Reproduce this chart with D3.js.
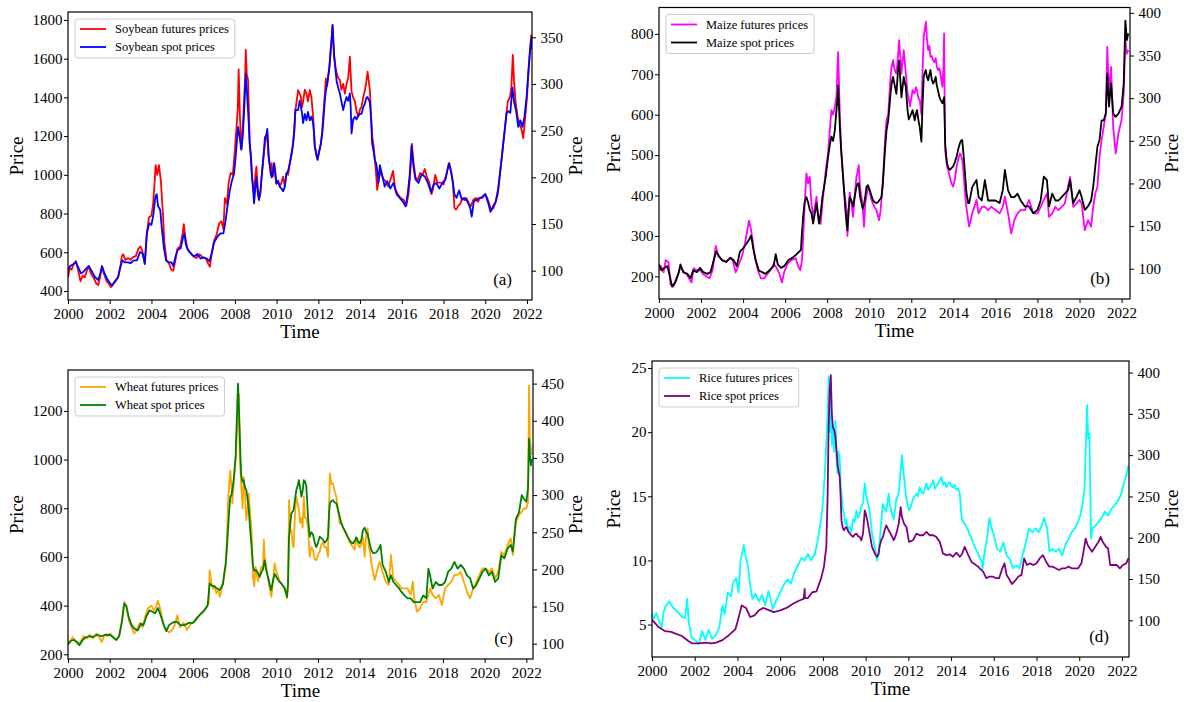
<!DOCTYPE html>
<html><head><meta charset="utf-8">
<script src="https://cdn.jsdelivr.net/npm/d3@7"></script>
<style>
body{margin:0;background:#fff}
svg text{font-family:"Liberation Serif","Times New Roman",serif;fill:#000}
</style></head><body>
<svg id="chart" width="1184" height="702"></svg>
<script>
// ---- Series: [year, price] ----
const soybeanFutures = [[2000.00,470],[2000.08,520],[2000.17,510],[2000.28,540],[2000.38,555],[2000.50,500],[2000.60,450],[2000.70,480],[2000.80,470],[2000.92,510],[2001.00,525],[2001.10,490],[2001.22,470],[2001.35,440],[2001.45,430],[2001.55,480],[2001.63,525],[2001.72,490],[2001.85,450],[2001.95,440],[2002.05,420],[2002.15,435],[2002.28,450],[2002.40,470],[2002.50,520],[2002.58,580],[2002.65,590],[2002.75,560],[2002.88,570],[2003.00,560],[2003.12,575],[2003.25,580],[2003.38,620],[2003.48,630],[2003.58,600],[2003.68,545],[2003.78,700],[2003.88,780],[2004.00,790],[2004.08,850],[2004.15,960],[2004.20,1050],[2004.28,1000],[2004.36,1050],[2004.45,970],[2004.55,800],[2004.62,650],[2004.72,560],[2004.85,540],[2004.95,510],[2005.05,505],[2005.15,560],[2005.25,620],[2005.38,630],[2005.50,700],[2005.55,745],[2005.62,680],[2005.72,620],[2005.85,600],[2006.00,580],[2006.15,570],[2006.30,590],[2006.45,575],[2006.60,570],[2006.72,540],[2006.80,525],[2006.90,600],[2007.00,660],[2007.12,690],[2007.25,750],[2007.35,760],
[2007.45,720],[2007.52,880],[2007.62,850],[2007.70,960],[2007.80,1010],[2007.90,1000],[2008.00,1130],[2008.08,1250],[2008.14,1350],[2008.18,1545],[2008.24,1300],[2008.32,1130],[2008.38,1250],[2008.44,1390],[2008.49,1500],[2008.52,1645],[2008.57,1520],[2008.63,1490],[2008.71,1165],[2008.77,1100],[2008.82,990],[2008.88,940],[2008.92,887],[2008.98,1000],[2009.03,1042],[2009.09,940],[2009.15,870],[2009.22,900],[2009.28,990],[2009.36,1080],[2009.44,1160],[2009.50,1200],[2009.55,1220],[2009.60,1100],[2009.66,1060],[2009.72,1000],[2009.76,1060],[2009.82,990],[2009.88,1060],[2009.94,990],[2009.99,956],[2010.07,970],[2010.15,940],[2010.23,960],[2010.31,990],[2010.39,940],[2010.47,1008],[2010.55,1000],[2010.63,1059],[2010.71,1100],[2010.79,1163],[2010.85,1250],[2010.90,1335],[2010.96,1380],[2011.03,1438],[2011.10,1420],[2011.16,1404],[2011.22,1350],[2011.27,1380],[2011.35,1440],[2011.43,1421],[2011.50,1380],[2011.59,1438],[2011.67,1400],[2011.75,1300],[2011.80,1200],[2011.83,1145],[2011.90,1100],[2011.96,1077],[2012.04,1120],[2012.12,1162],[2012.18,1220],[2012.23,1300],[2012.30,1400],[2012.36,1498],[2012.42,1460],[2012.47,1507],[2012.53,1560],[2012.58,1628],[2012.64,1700],[2012.68,1774],[2012.72,1690],[2012.76,1610],[2012.82,1560],[2012.87,1530],[2012.95,1500],[2013.03,1490],[2013.10,1440],[2013.19,1470],[2013.27,1420],[2013.35,1470],[2013.43,1500],[2013.51,1610],[2013.55,1520],[2013.59,1430],[2013.67,1400],[2013.75,1380],[2013.83,1330],[2013.91,1300],[2014.00,1340],[2014.07,1350],[2014.15,1400],[2014.23,1438],[2014.30,1480],[2014.36,1533],[2014.42,1480],[2014.47,1438],[2014.53,1300],[2014.58,1200],[2014.65,1150],[2014.71,1077],[2014.77,1000],[2014.82,922],[2014.90,980],
[2015.00,1020],[2015.10,980],[2015.20,970],[2015.35,940],[2015.50,990],[2015.58,1020],[2015.68,930],[2015.80,900],[2015.95,880],[2016.10,870],[2016.22,840],[2016.32,900],[2016.40,1000],[2016.48,1160],[2016.55,1080],[2016.65,990],[2016.75,970],[2016.88,1010],[2017.00,1000],[2017.10,1030],[2017.20,990],[2017.32,960],[2017.42,900],[2017.50,930],[2017.60,1000],[2017.70,960],[2017.85,960],[2018.00,950],[2018.10,990],[2018.20,1030],[2018.28,1060],[2018.38,1010],[2018.45,960],[2018.52,830],[2018.60,820],[2018.70,840],[2018.80,850],[2018.90,880],[2019.00,870],[2019.10,880],[2019.22,850],[2019.32,840],[2019.42,870],[2019.55,880],[2019.65,860],[2019.75,880],[2019.88,890],[2020.00,900],[2020.10,880],[2020.22,840],[2020.30,820],[2020.40,830],[2020.50,860],[2020.60,900],[2020.70,1000],[2020.80,1100],[2020.90,1200],[2021.00,1300],[2021.08,1380],[2021.18,1400],[2021.25,1450],[2021.32,1620],[2021.38,1480],[2021.45,1380],[2021.55,1300],[2021.65,1260],[2021.75,1230],[2021.82,1190],[2021.90,1280],[2022.00,1400],[2022.08,1550],[2022.15,1650],[2022.20,1720],[2022.25,1700]];
const soybeanSpot = [[2000.00,101],[2000.10,105],[2000.25,107],[2000.38,109],[2000.50,103],[2000.62,97],[2000.75,99],[2000.90,103],[2001.00,105],[2001.15,99],[2001.30,93],[2001.45,90],[2001.55,97],[2001.63,105],[2001.75,97],[2001.88,91],[2002.00,87],[2002.12,84],[2002.25,89],[2002.40,93],[2002.50,103],[2002.60,111],[2002.72,109],[2002.88,109],[2003.00,108],[2003.15,111],[2003.30,111],[2003.45,120],[2003.58,118],[2003.68,107],[2003.78,140],[2003.90,151],[2004.00,149],[2004.10,161],[2004.18,178],[2004.25,182],[2004.32,169],[2004.42,165],[2004.50,145],[2004.60,124],[2004.70,111],[2004.82,109],[2004.95,109],[2005.05,105],[2005.15,115],[2005.25,122],[2005.40,124],[2005.52,136],[2005.58,140],[2005.65,128],[2005.75,122],[2005.90,118],[2006.05,115],[2006.20,118],[2006.35,113],[2006.50,114],[2006.65,113],[2006.78,110],[2006.90,120],[2007.00,130],[2007.15,136],[2007.30,140],
[2007.45,140],[2007.55,153],[2007.65,170],[2007.75,185],[2007.85,196],[2007.95,203],[2008.03,220],[2008.10,240],[2008.16,254],[2008.22,245],[2008.30,230],[2008.38,245],[2008.44,270],[2008.49,295],[2008.52,311],[2008.58,290],[2008.63,272],[2008.68,250],[2008.71,236],[2008.77,220],[2008.82,200],[2008.88,185],[2008.92,172],[2008.98,190],[2009.03,200],[2009.09,185],[2009.15,176],[2009.22,185],[2009.28,200],[2009.36,220],[2009.44,243],[2009.50,245],[2009.55,252],[2009.60,232],[2009.64,218],[2009.70,208],[2009.76,200],[2009.82,205],[2009.88,215],[2009.94,205],[2009.99,193],[2010.07,196],[2010.15,190],[2010.23,188],[2010.31,185],[2010.39,190],[2010.47,204],[2010.55,207],[2010.63,215],[2010.71,225],[2010.79,236],[2010.85,250],[2010.90,272],[2010.96,272],[2011.03,272],[2011.10,282],[2011.16,276],[2011.22,268],[2011.27,258],[2011.35,268],[2011.43,261],[2011.50,270],[2011.59,261],[2011.67,265],[2011.75,258],[2011.80,245],[2011.83,233],[2011.90,226],[2011.96,219],[2012.04,228],[2012.12,236],[2012.18,246],[2012.23,258],[2012.30,280],[2012.36,293],[2012.42,300],[2012.47,308],[2012.53,318],[2012.58,333],[2012.64,350],[2012.68,363],[2012.72,345],[2012.76,329],[2012.82,315],[2012.87,304],[2012.95,296],[2013.03,290],[2013.10,282],[2013.19,272],[2013.27,280],[2013.35,286],[2013.43,282],[2013.51,290],[2013.55,275],[2013.59,247],[2013.67,262],[2013.75,265],[2013.83,262],[2013.91,266],[2014.00,268],[2014.07,268],[2014.15,275],[2014.23,279],[2014.30,285],[2014.36,286],[2014.42,283],[2014.47,280],[2014.53,262],[2014.58,236],[2014.65,228],[2014.71,218],[2014.77,215],[2014.82,208],[2014.88,194],[2014.95,213],
[2015.05,203],[2015.18,190],[2015.30,196],[2015.45,188],[2015.60,194],[2015.75,182],[2015.90,178],[2016.05,174],[2016.18,169],[2016.28,182],[2016.38,203],[2016.47,234],[2016.55,213],[2016.65,198],[2016.80,194],[2016.95,203],[2017.10,201],[2017.25,194],[2017.40,184],[2017.52,192],[2017.65,194],[2017.80,188],[2017.95,194],[2018.10,198],[2018.25,215],[2018.35,207],[2018.45,194],[2018.52,182],[2018.62,178],[2018.75,186],[2018.88,176],[2019.00,178],[2019.15,174],[2019.28,167],[2019.35,158],[2019.45,174],[2019.58,176],[2019.72,178],[2019.85,178],[2020.00,182],[2020.12,174],[2020.25,163],[2020.38,169],[2020.50,174],[2020.62,188],[2020.72,207],[2020.82,227],[2020.92,248],[2021.02,269],[2021.10,271],[2021.20,269],[2021.30,296],[2021.38,281],[2021.48,271],[2021.58,254],[2021.68,261],[2021.78,254],[2021.88,265],[2021.98,286],[2022.08,317],[2022.15,337],[2022.20,348],[2022.25,337]];

const maizeFutures = [[2000.00,215],[2000.10,225],[2000.22,210],[2000.32,240],[2000.45,235],[2000.55,180],[2000.68,175],[2000.82,195],[2000.95,210],[2001.02,225],[2001.18,210],[2001.32,205],[2001.48,190],[2001.55,185],[2001.65,220],[2001.80,215],[2001.95,215],[2002.10,205],[2002.25,200],[2002.40,195],[2002.55,215],[2002.70,275],[2002.82,250],[2003.00,240],[2003.20,235],[2003.35,245],[2003.50,240],[2003.65,210],[2003.80,230],[2003.95,250],[2004.10,285],[2004.22,320],[2004.28,338],[2004.36,320],[2004.45,290],[2004.55,250],[2004.70,215],[2004.85,195],[2005.00,195],[2005.15,205],[2005.30,215],[2005.45,230],[2005.55,225],[2005.70,210],[2005.85,185],[2005.95,210],[2006.10,230],[2006.30,240],[2006.50,245],[2006.62,225],[2006.72,215],
[2006.80,240],[2006.85,290],[2006.92,370],[2007.01,455],[2007.09,430],[2007.17,446],[2007.25,380],[2007.33,347],[2007.41,370],[2007.49,397],[2007.55,360],[2007.61,340],[2007.69,330],[2007.77,380],[2007.85,420],[2007.93,463],[2008.04,504],[2008.12,560],[2008.20,611],[2008.28,600],[2008.36,619],[2008.44,644],[2008.49,720],[2008.52,755],[2008.56,680],[2008.60,600],[2008.66,520],[2008.71,480],[2008.80,415],[2008.86,390],[2008.92,364],[2008.96,300],[2009.02,360],[2009.07,407],[2009.15,380],[2009.23,347],[2009.31,400],[2009.39,446],[2009.45,460],[2009.50,475],[2009.56,420],[2009.63,397],[2009.69,370],[2009.75,323],[2009.81,380],[2009.87,400],[2009.94,420],[2010.02,410],[2010.10,390],[2010.18,380],[2010.26,370],[2010.34,364],[2010.41,350],[2010.47,339],[2010.53,360],[2010.58,390],[2010.64,430],[2010.69,480],[2010.75,540],[2010.82,587],[2010.90,600],[2010.96,650],[2011.01,694],[2011.07,720],[2011.13,735],[2011.21,710],[2011.29,702],[2011.36,740],[2011.42,784],[2011.48,740],[2011.53,702],[2011.58,730],[2011.64,760],[2011.69,730],[2011.74,702],[2011.82,653],[2011.88,640],[2011.93,621],[2012.00,640],[2012.06,661],[2012.11,655],[2012.16,653],[2012.22,668],[2012.27,661],[2012.34,640],[2012.40,637],[2012.48,600],[2012.53,700],[2012.59,793],[2012.64,810],[2012.69,830],[2012.74,790],[2012.80,760],[2012.86,770],[2012.91,743],[2012.97,745],[2013.04,735],[2013.10,730],[2013.16,740],[2013.21,720],[2013.27,710],[2013.33,715],[2013.39,700],[2013.48,669],[2013.53,720],[2013.56,801],[2013.59,600],[2013.61,512],[2013.66,490],[2013.70,471],[2013.77,460],[2013.83,446],[2013.91,430],[2013.99,422],[2014.07,440],[2014.15,470],[2014.23,490],[2014.31,504],[2014.36,500],[2014.42,488],[2014.48,460],[2014.54,415],[2014.62,370],[2014.70,340],[2014.75,323],[2014.90,356],
[2015.10,389],[2015.20,356],[2015.35,372],[2015.50,372],[2015.65,364],[2015.80,372],[2016.00,364],[2016.20,356],[2016.35,372],[2016.45,397],[2016.60,356],[2016.75,306],[2016.90,339],[2017.05,356],[2017.20,364],[2017.40,364],[2017.60,389],[2017.80,356],[2018.00,356],[2018.15,372],[2018.30,389],[2018.45,405],[2018.55,347],[2018.70,356],[2018.85,372],[2019.00,364],[2019.15,372],[2019.30,380],[2019.45,421],[2019.55,446],[2019.70,372],[2019.85,380],[2020.00,389],[2020.10,380],[2020.25,314],[2020.40,339],[2020.55,323],[2020.65,372],[2020.75,405],[2020.85,421],[2020.95,496],[2021.05,537],[2021.15,570],[2021.25,603],[2021.32,768],[2021.40,652],[2021.50,718],[2021.60,570],[2021.72,504],[2021.85,554],[2022.00,587],[2022.10,652],[2022.18,784],[2022.25,751],[2022.32,760]];
const maizeSpot = [[2000.00,105],[2000.12,98],[2000.25,101],[2000.40,103],[2000.52,91],[2000.62,79],[2000.78,84],[2000.92,94],[2001.02,105],[2001.15,96],[2001.35,94],[2001.50,89],[2001.62,98],[2001.80,96],[2001.95,101],[2002.10,96],[2002.30,94],[2002.45,96],[2002.60,110],[2002.72,120],[2002.85,115],[2003.00,110],[2003.20,108],[2003.40,113],[2003.55,110],[2003.70,103],[2003.85,120],[2004.00,124],[2004.15,129],[2004.28,134],[2004.38,139],[2004.48,124],[2004.60,110],[2004.75,98],[2004.90,96],[2005.05,94],[2005.25,98],[2005.45,103],[2005.55,117],[2005.65,105],[2005.80,101],[2005.95,103],[2006.15,110],[2006.35,113],[2006.55,117],[2006.75,122],
[2006.78,135],[2006.85,160],[2006.92,177],[2007.01,184],[2007.09,178],[2007.17,169],[2007.25,165],[2007.33,153],[2007.41,165],[2007.49,177],[2007.55,165],[2007.61,153],[2007.69,165],[2007.77,184],[2007.85,196],[2007.93,208],[2008.04,231],[2008.12,245],[2008.20,255],[2008.28,250],[2008.36,262],[2008.44,286],[2008.49,300],[2008.52,315],[2008.56,290],[2008.60,266],[2008.66,240],[2008.71,223],[2008.76,205],[2008.80,192],[2008.86,170],[2008.92,153],[2008.96,145],[2009.02,170],[2009.07,184],[2009.15,180],[2009.23,173],[2009.31,185],[2009.39,196],[2009.45,200],[2009.50,200],[2009.56,185],[2009.63,177],[2009.69,170],[2009.75,176],[2009.81,185],[2009.87,196],[2009.94,198],[2010.02,192],[2010.10,186],[2010.18,180],[2010.26,178],[2010.34,177],[2010.41,178],[2010.47,180],[2010.53,182],[2010.58,184],[2010.64,198],[2010.69,216],[2010.75,240],[2010.82,262],[2010.90,274],[2010.96,290],[2011.01,305],[2011.07,318],[2011.13,325],[2011.21,315],[2011.29,305],[2011.36,330],[2011.42,344],[2011.48,320],[2011.53,301],[2011.58,312],[2011.64,325],[2011.69,318],[2011.74,313],[2011.82,286],[2011.88,275],[2011.93,278],[2012.00,282],[2012.06,286],[2012.11,280],[2012.16,274],[2012.22,282],[2012.27,286],[2012.34,274],[2012.40,266],[2012.48,249],[2012.53,290],[2012.59,325],[2012.64,330],[2012.69,333],[2012.74,325],[2012.80,321],[2012.86,328],[2012.91,333],[2012.97,322],[2013.04,317],[2013.10,320],[2013.16,325],[2013.21,315],[2013.27,309],[2013.33,302],[2013.39,298],[2013.48,294],[2013.53,298],[2013.56,301],[2013.59,270],[2013.61,247],[2013.66,232],[2013.70,223],[2013.77,218],[2013.83,216],[2013.91,218],[2013.99,220],[2014.07,225],[2014.15,231],[2014.23,240],[2014.31,247],[2014.36,250],[2014.42,251],[2014.48,235],[2014.54,216],[2014.62,190],[2014.70,177],[2014.75,177],[2014.90,196],
[2015.10,204],[2015.20,184],[2015.35,180],[2015.50,204],[2015.65,180],[2015.80,180],[2016.00,180],[2016.20,177],[2016.35,192],[2016.45,216],[2016.60,192],[2016.75,184],[2016.90,184],[2017.05,188],[2017.20,180],[2017.40,173],[2017.60,173],[2017.80,165],[2018.00,169],[2018.15,180],[2018.30,208],[2018.45,204],[2018.55,173],[2018.70,188],[2018.85,180],[2019.00,180],[2019.15,184],[2019.30,188],[2019.45,192],[2019.55,204],[2019.70,177],[2019.85,184],[2020.00,192],[2020.10,184],[2020.25,169],[2020.40,173],[2020.55,180],[2020.65,196],[2020.75,220],[2020.85,243],[2020.95,251],[2021.05,274],[2021.15,274],[2021.25,282],[2021.32,329],[2021.40,290],[2021.50,317],[2021.60,282],[2021.72,278],[2021.85,282],[2022.00,290],[2022.10,317],[2022.18,391],[2022.25,368],[2022.32,376]];

const wheatFutures = [[2000.00,260],[2000.10,250],[2000.22,270],[2000.35,255],[2000.50,240],[2000.62,255],[2000.75,275],[2000.90,265],[2001.05,280],[2001.20,265],[2001.35,285],[2001.50,270],[2001.62,250],[2001.75,280],[2001.90,275],[2002.05,285],[2002.20,265],[2002.35,260],[2002.48,280],[2002.60,350],[2002.70,415],[2002.80,395],[2002.92,340],[2003.05,310],[2003.18,285],[2003.30,300],[2003.45,330],[2003.58,310],[2003.72,360],[2003.85,390],[2004.00,400],[2004.12,380],[2004.25,400],[2004.32,420],[2004.45,380],[2004.58,320],[2004.72,300],[2004.85,290],[2005.00,300],[2005.12,320],[2005.25,360],[2005.38,310],[2005.55,330],[2005.70,300],[2005.85,320],[2006.00,330],[2006.15,340],[2006.30,360],[2006.45,370],[2006.60,390],
[2006.75,410],[2006.80,546],[2006.87,500],[2006.95,470],[2007.04,480],[2007.12,450],[2007.20,470],[2007.28,436],[2007.36,460],[2007.44,500],[2007.50,520],[2007.57,560],[2007.63,680],[2007.68,820],[2007.74,900],[2007.79,956],[2007.85,880],[2007.89,820],[2007.95,900],[2008.00,970],[2008.05,1000],[2008.10,1100],[2008.16,1161],[2008.20,1270],[2008.24,1025],[2008.28,950],[2008.32,888],[2008.38,800],[2008.43,929],[2008.50,850],[2008.56,751],[2008.62,800],[2008.68,860],[2008.74,780],[2008.80,723],[2008.85,620],[2008.88,518],[2008.94,480],[2009.00,560],[2009.04,540],[2009.12,500],[2009.20,530],[2009.28,560],[2009.36,550],[2009.40,670],[2009.44,601],[2009.52,560],[2009.60,510],[2009.68,470],[2009.76,436],[2009.84,500],[2009.92,573],[2010.00,540],[2010.08,520],[2010.16,500],[2010.24,490],[2010.32,480],[2010.40,464],[2010.47,450],[2010.51,430],[2010.56,470],[2010.61,833],[2010.67,700],[2010.72,710],[2010.78,650],[2010.83,640],[2010.90,780],[2010.96,847],[2011.02,820],[2011.08,800],[2011.14,740],[2011.20,760],[2011.26,720],[2011.32,850],[2011.38,760],[2011.44,760],[2011.52,720],[2011.60,600],[2011.68,640],[2011.76,630],[2011.84,590],[2011.92,587],[2012.00,610],[2012.08,620],[2012.16,650],[2012.24,660],[2012.32,640],[2012.40,640],[2012.48,600],[2012.53,800],[2012.57,943],[2012.64,900],[2012.72,902],[2012.80,870],[2012.88,847],[2012.96,800],[2013.04,737],[2013.12,740],[2013.20,720],[2013.28,710],[2013.36,690],[2013.44,680],[2013.52,660],[2013.60,650],[2013.68,640],[2013.76,630],[2013.84,680],[2013.92,650],[2014.00,640],[2014.08,650],[2014.16,680],[2014.24,601],[2014.32,700],[2014.38,717],[2014.44,640],[2014.50,620],[2014.56,573],[2014.64,540],[2014.72,505],[2014.80,530],[2014.88,560],[2014.95,580],
[2015.10,539],[2015.25,498],[2015.40,485],[2015.50,608],[2015.62,512],[2015.75,498],[2015.90,485],[2016.00,471],[2016.15,471],[2016.30,471],[2016.45,444],[2016.55,498],[2016.62,430],[2016.75,375],[2016.90,389],[2017.05,416],[2017.20,416],[2017.38,471],[2017.50,444],[2017.65,430],[2017.80,444],[2017.95,402],[2018.10,471],[2018.25,485],[2018.40,498],[2018.55,526],[2018.70,526],[2018.85,539],[2019.00,498],[2019.15,457],[2019.30,430],[2019.45,471],[2019.60,498],[2019.75,526],[2019.90,553],[2020.05,553],[2020.20,539],[2020.35,553],[2020.50,512],[2020.65,539],[2020.80,621],[2020.95,608],[2021.10,649],[2021.25,676],[2021.35,608],[2021.50,744],[2021.65,772],[2021.78,786],[2021.88,799],[2022.00,799],[2022.08,827],[2022.13,1305],[2022.17,1086],[2022.22,1045],[2022.25,1018]];
const wheatSpot = [[2000.00,99],[2000.15,104],[2000.30,105],[2000.45,102],[2000.55,98],[2000.68,104],[2000.82,108],[2001.00,110],[2001.20,109],[2001.40,112],[2001.60,110],[2001.80,112],[2002.00,112],[2002.15,109],[2002.32,105],[2002.45,110],[2002.58,128],[2002.70,154],[2002.80,151],[2002.92,135],[2003.05,125],[2003.20,120],[2003.35,118],[2003.50,127],[2003.62,125],[2003.78,138],[2003.92,145],[2004.05,143],[2004.18,141],[2004.32,148],[2004.45,138],[2004.60,125],[2004.72,117],[2004.85,125],[2005.00,128],[2005.20,130],[2005.40,125],[2005.60,125],[2005.80,128],[2006.00,128],[2006.20,135],[2006.40,141],[2006.55,145],[2006.70,151],
[2006.80,181],[2006.90,178],[2007.04,177],[2007.12,175],[2007.20,174],[2007.28,172],[2007.36,176],[2007.44,180],[2007.50,195],[2007.57,208],[2007.63,230],[2007.68,253],[2007.74,280],[2007.79,298],[2007.85,300],[2007.89,307],[2007.95,320],[2008.00,334],[2008.05,355],[2008.10,400],[2008.16,450],[2008.20,420],[2008.24,387],[2008.28,350],[2008.32,325],[2008.38,318],[2008.43,320],[2008.50,310],[2008.56,307],[2008.62,295],[2008.68,280],[2008.74,255],[2008.80,235],[2008.85,215],[2008.88,204],[2008.94,198],[2009.04,199],[2009.12,195],[2009.20,190],[2009.28,196],[2009.36,200],[2009.44,212],[2009.52,198],[2009.60,190],[2009.68,180],[2009.76,172],[2009.84,185],[2009.92,194],[2010.00,190],[2010.08,186],[2010.16,183],[2010.24,181],[2010.32,178],[2010.40,175],[2010.47,168],[2010.51,163],[2010.56,180],[2010.61,244],[2010.67,262],[2010.72,275],[2010.78,278],[2010.83,280],[2010.90,295],[2010.96,307],[2011.02,312],[2011.08,320],[2011.14,310],[2011.20,298],[2011.26,305],[2011.32,320],[2011.38,318],[2011.44,312],[2011.52,271],[2011.60,244],[2011.68,250],[2011.76,247],[2011.84,236],[2011.92,230],[2012.00,236],[2012.08,244],[2012.16,242],[2012.24,240],[2012.32,236],[2012.40,238],[2012.48,244],[2012.53,275],[2012.57,289],[2012.64,292],[2012.72,293],[2012.80,290],[2012.88,289],[2012.96,280],[2013.04,271],[2013.12,262],[2013.20,257],[2013.28,252],[2013.36,248],[2013.44,243],[2013.52,239],[2013.60,236],[2013.68,235],[2013.76,238],[2013.84,243],[2013.92,238],[2014.00,235],[2014.08,240],[2014.16,253],[2014.24,256],[2014.32,250],[2014.38,248],[2014.44,240],[2014.50,232],[2014.56,226],[2014.64,222],[2014.72,222],[2014.80,223],[2014.88,226],[2014.95,230],
[2015.00,233],[2015.10,206],[2015.25,197],[2015.40,183],[2015.50,192],[2015.62,183],[2015.75,179],[2015.90,174],[2016.00,170],[2016.15,165],[2016.30,161],[2016.45,161],[2016.60,156],[2016.75,156],[2016.90,156],[2017.05,165],[2017.20,161],[2017.30,201],[2017.38,192],[2017.50,174],[2017.65,183],[2017.80,179],[2017.95,179],[2018.10,183],[2018.25,197],[2018.40,201],[2018.55,210],[2018.70,201],[2018.85,206],[2019.00,201],[2019.15,192],[2019.30,188],[2019.45,174],[2019.60,179],[2019.75,188],[2019.90,197],[2020.05,201],[2020.20,192],[2020.35,197],[2020.50,183],[2020.65,188],[2020.80,219],[2020.95,215],[2021.10,228],[2021.25,233],[2021.35,224],[2021.50,268],[2021.65,277],[2021.78,300],[2021.88,295],[2022.00,291],[2022.08,309],[2022.13,376],[2022.17,354],[2022.22,340],[2022.25,349]];

const riceFutures = [[2000.00,5.8],[2000.10,5.5],[2000.20,5.9],[2000.30,5.4],[2000.45,4.8],[2000.55,6.0],[2000.65,6.5],[2000.80,6.8],[2001.00,6.3],[2001.20,6.0],[2001.40,5.6],[2001.55,5.5],[2001.65,7.0],[2001.72,5.2],[2001.85,4.0],[2002.00,3.8],[2002.20,3.5],[2002.35,4.5],[2002.50,3.8],[2002.65,4.6],[2002.80,3.9],[2003.00,4.2],[2003.15,4.8],[2003.30,6.5],[2003.40,5.8],[2003.55,7.5],[2003.70,7.2],[2003.80,8.3],[2003.95,8.6],[2004.05,7.5],[2004.15,10.0],[2004.30,11.2],[2004.40,10.2],[2004.50,9.5],[2004.60,8.0],[2004.70,7.0],[2004.85,7.4],[2005.00,6.8],[2005.15,7.3],[2005.30,6.5],[2005.45,7.6],[2005.55,7.0],[2005.65,6.2],[2005.80,6.8],[2006.00,7.5],[2006.20,8.2],[2006.35,8.5],[2006.50,8.2],[2006.65,9.0],[2006.80,9.5],[2007.00,10.2],[2007.15,10.0],[2007.30,10.5],[2007.45,10.0],
[2007.62,10.5],[2007.75,11.5],[2007.85,12.5],[2007.93,13.4],[2008.00,14.5],[2008.08,16.5],[2008.16,19.1],[2008.22,21.5],[2008.27,24.3],[2008.32,20.0],[2008.37,23.0],[2008.42,19.0],[2008.47,20.4],[2008.53,18.5],[2008.59,20.9],[2008.64,18.0],[2008.68,16.8],[2008.73,18.5],[2008.79,17.9],[2008.83,16.0],[2008.87,15.2],[2008.93,14.0],[2008.99,13.7],[2009.05,12.8],[2009.10,13.2],[2009.18,12.4],[2009.26,12.6],[2009.33,12.2],[2009.41,13.2],[2009.49,13.0],[2009.57,13.9],[2009.64,13.3],[2009.72,13.6],[2009.80,14.2],[2009.88,14.5],[2009.96,16.0],[2010.02,15.2],[2010.08,14.7],[2010.19,13.8],[2010.30,12.1],[2010.43,11.05],[2010.53,10.0],[2010.60,10.4],[2010.66,11.5],[2010.73,13.0],[2010.81,14.4],[2010.90,14.0],[2010.97,13.8],[2011.08,15.2],[2011.14,14.3],[2011.21,13.8],[2011.32,13.2],[2011.38,14.0],[2011.44,14.8],[2011.55,15.2],[2011.64,17.0],[2011.70,18.2],[2011.75,17.2],[2011.80,16.5],[2011.91,14.8],[2012.03,13.9],[2012.12,14.2],[2012.22,14.8],[2012.30,15.0],[2012.38,15.2],[2012.46,15.0],[2012.53,15.7],[2012.61,15.4],[2012.69,15.2],[2012.77,15.6],[2012.85,16.0],[2012.93,15.5],[2013.00,15.7],[2013.08,15.9],[2013.16,16.25],[2013.24,15.6],[2013.31,15.8],[2013.39,16.0],[2013.47,16.25],[2013.55,16.5],[2013.62,15.9],[2013.70,16.1],[2013.78,15.7],[2013.86,16.0],[2013.94,16.1],[2014.02,15.8],[2014.09,15.7],[2014.17,15.9],[2014.25,15.5],[2014.33,15.6],[2014.41,15.2],[2014.46,14.0],[2014.51,13.2],[2014.57,13.0],[2014.64,12.9],[2014.72,12.6],[2014.79,12.4],[2014.87,12.0],[2014.95,11.8],[2015.03,11.4],[2015.11,11.05],[2015.19,10.8],[2015.26,10.6],[2015.34,10.2],[2015.42,10.0],[2015.48,9.4],[2015.55,10.4],
[2015.70,12.0],[2015.80,13.3],[2015.90,12.5],[2016.00,12.0],[2016.15,10.9],[2016.30,10.7],[2016.45,11.4],[2016.60,10.4],[2016.75,10.1],[2016.90,9.4],[2017.05,9.6],[2017.20,9.4],[2017.35,10.4],[2017.50,11.4],[2017.65,12.5],[2017.80,12.2],[2017.95,12.5],[2018.10,12.2],[2018.25,12.7],[2018.35,13.3],[2018.50,12.5],[2018.60,10.7],[2018.75,10.9],[2018.90,10.7],[2019.05,10.9],[2019.20,10.4],[2019.35,11.2],[2019.50,11.7],[2019.65,12.2],[2019.80,12.5],[2019.95,13.0],[2020.05,13.5],[2020.15,14.3],[2020.25,15.6],[2020.30,18.5],[2020.37,22.1],[2020.42,19.5],[2020.48,19.9],[2020.55,11.7],[2020.62,12.5],[2020.75,12.7],[2020.90,13.0],[2021.05,13.3],[2021.20,13.8],[2021.35,13.5],[2021.50,14.0],[2021.65,14.3],[2021.80,14.6],[2021.95,15.1],[2022.10,16.1],[2022.20,16.6],[2022.30,17.4]];
const riceSpot = [[2000.00,101],[2000.30,92],[2000.60,87],[2000.90,86],[2001.10,84],[2001.40,81],[2001.70,75],[2001.90,72],[2002.20,72],[2002.50,73],[2002.80,72],[2003.00,73],[2003.30,76],[2003.60,82],[2003.90,89],[2004.00,98],[2004.20,118],[2004.40,115],[2004.60,104],[2004.80,106],[2005.00,112],[2005.20,115],[2005.50,112],[2005.70,110],[2006.00,112],[2006.30,115],[2006.60,120],[2006.90,124],[2007.10,126],[2007.15,138],[2007.16,127],[2007.30,127],[2007.50,134],
[2007.70,135],[2007.93,152],[2008.05,165],[2008.16,189],[2008.22,250],[2008.27,334],[2008.32,380],[2008.37,397],[2008.42,350],[2008.47,334],[2008.53,330],[2008.59,322],[2008.64,305],[2008.68,290],[2008.74,280],[2008.79,273],[2008.83,250],[2008.87,221],[2008.93,212],[2008.99,209],[2009.05,212],[2009.10,213],[2009.18,208],[2009.26,205],[2009.33,203],[2009.41,201],[2009.49,204],[2009.57,205],[2009.64,202],[2009.72,201],[2009.80,197],[2009.88,205],[2009.96,233],[2010.02,228],[2010.08,221],[2010.19,205],[2010.30,189],[2010.43,181],[2010.53,177],[2010.60,180],[2010.66,190],[2010.73,197],[2010.81,201],[2010.90,210],[2010.97,215],[2011.08,209],[2011.21,203],[2011.32,197],[2011.44,205],[2011.55,217],[2011.64,237],[2011.70,225],[2011.80,217],[2011.91,213],[2012.03,195],[2012.22,197],[2012.38,205],[2012.53,203],[2012.69,203],[2012.85,207],[2013.00,203],[2013.16,203],[2013.31,201],[2013.47,195],[2013.55,188],[2013.62,181],[2013.78,179],[2013.94,180],[2014.09,177],[2014.25,182],[2014.41,177],[2014.51,180],[2014.64,189],[2014.79,180],[2014.95,171],[2015.11,168],[2015.26,165],[2015.42,161],[2015.50,159],
[2015.65,151],[2015.80,153],[2015.95,153],[2016.10,151],[2016.25,151],[2016.40,163],[2016.50,169],[2016.60,155],[2016.70,151],[2016.85,144],[2017.00,148],[2017.15,153],[2017.30,155],[2017.42,175],[2017.55,167],[2017.70,169],[2017.85,167],[2018.00,169],[2018.15,175],[2018.30,179],[2018.45,171],[2018.60,165],[2018.75,165],[2018.90,163],[2019.05,161],[2019.20,163],[2019.35,163],[2019.50,165],[2019.65,163],[2019.80,163],[2019.95,163],[2020.10,169],[2020.20,183],[2020.30,199],[2020.40,191],[2020.50,187],[2020.60,183],[2020.75,189],[2020.90,195],[2021.00,201],[2021.10,195],[2021.25,189],[2021.35,187],[2021.45,167],[2021.60,167],[2021.75,167],[2021.90,163],[2022.05,167],[2022.20,169],[2022.30,175]];

// ---- Ticks and labels ----
const yearTicks = [2000,2002,2004,2006,2008,2010,2012,2014,2016,2018,2020,2022];
const soybeanTicksLeft = [400,600,800,1000,1200,1400,1600,1800];
const soybeanTicksRight = [100,150,200,250,300,350];
const maizeTicksLeft = [200,300,400,500,600,700,800];
const maizeTicksRight = [100,150,200,250,300,350,400];
const wheatTicksLeft = [200,400,600,800,1000,1200];
const wheatTicksRight = [100,150,200,250,300,350,400,450];
const riceTicksLeft = [5,10,15,20,25];
const riceTicksRight = [100,150,200,250,300,350,400];
const futuresNames = ["Soybean futures prices","Maize futures prices","Wheat futures prices","Rice futures prices"];
const spotNames = ["Soybean spot prices","Maize spot prices","Wheat spot prices","Rice spot prices"];
const panelTags = ["(a)","(b)","(c)","(d)"];

// ---- Layout of the four panels ----
const panels = [
  {box:{l:68,r:532,t:12,b:300}, xDom:[2000,2022.24], yL:[353.5,1841], yR:[68.6,377.1],
   tl:soybeanTicksLeft, tr:soybeanTicksRight, fut:soybeanFutures, spot:soybeanSpot,
   cf:"#ff0000", cs:"#0000ff", lOff:45, rOff:50},
  {box:{l:659,r:1130,t:7.5,b:299}, xDom:[2000,2022.4], yL:[143.9,865.3], yR:[64.5,406.3],
   tl:maizeTicksLeft, tr:maizeTicksRight, fut:maizeFutures, spot:maizeSpot,
   cf:"#ff00ff", cs:"#000000", lOff:39, rOff:48},
  {box:{l:68,r:533,t:370,b:659}, xDom:[2000,2022.32], yL:[180.7,1368], yR:[79.4,468.3],
   tl:wheatTicksLeft, tr:wheatTicksRight, fut:wheatFutures, spot:wheatSpot,
   cf:"#ffa500", cs:"#008000", lOff:45, rOff:49},
  {box:{l:652,r:1129,t:361,b:657}, xDom:[2000,2022.33], yL:[2.47,25.55], yR:[55.6,414],
   tl:riceTicksLeft, tr:riceTicksRight, fut:riceFutures, spot:riceSpot,
   cf:"#00ffff", cs:"#800080", lOff:32, rOff:49}
];

const SERIF = "'Liberation Serif', 'Times New Roman', serif";
const svg = d3.select("#chart");

panels.forEach((p, i) => {
  const {l, r, t, b} = p.box;
  const x = d3.scaleLinear().domain(p.xDom).range([l, r]);
  const yl = d3.scaleLinear().domain(p.yL).range([b, t]);
  const yr = d3.scaleLinear().domain(p.yR).range([b, t]);
  const g = svg.append("g");

  const clipId = "clip" + i;
  svg.append("clipPath").attr("id", clipId)
    .append("rect").attr("x", l).attr("y", t).attr("width", r - l).attr("height", b - t);

  const lineL = d3.line().x(d => x(d[0])).y(d => yl(d[1]));
  const lineR = d3.line().x(d => x(d[0])).y(d => yr(d[1]));

  const plot = g.append("g").attr("clip-path", `url(#${clipId})`);
  plot.append("path").datum(p.fut).attr("d", lineL)
    .attr("fill", "none").attr("stroke", p.cf).attr("stroke-width", 1.8).attr("stroke-linejoin", "round");
  plot.append("path").datum(p.spot).attr("d", lineR)
    .attr("fill", "none").attr("stroke", p.cs).attr("stroke-width", 1.8).attr("stroke-linejoin", "round");

  // axes
  const ax = g.append("g").attr("transform", `translate(0,${b})`)
    .call(d3.axisBottom(x).tickValues(yearTicks).tickFormat(d3.format("d")).tickSize(4).tickPadding(4));
  const ayl = g.append("g").attr("transform", `translate(${l},0)`)
    .call(d3.axisLeft(yl).tickValues(p.tl).tickFormat(d3.format("d")).tickSize(4).tickPadding(1.5));
  const ayr = g.append("g").attr("transform", `translate(${r},0)`)
    .call(d3.axisRight(yr).tickValues(p.tr).tickFormat(d3.format("d")).tickSize(4).tickPadding(4.5));
  [ax, ayl, ayr].forEach(a => {
    a.attr("font-family", null);
    a.select(".domain").remove();
    a.selectAll("line").attr("stroke", "#000").attr("stroke-width", 1);
    a.selectAll("text").style("font-family", SERIF).style("font-size", "15px").attr("fill", "#000");
  });

  // frame
  g.append("rect").attr("x", l).attr("y", t).attr("width", r - l).attr("height", b - t)
    .attr("fill", "none").attr("stroke", "#000").attr("stroke-width", 1.2);

  // axis titles
  g.append("text").attr("x", (l + r) / 2).attr("y", b + 38).attr("text-anchor", "middle")
    .style("font-size", "19px").text("Time");
  g.append("text").attr("transform", `translate(${l - p.lOff},${(t + b) / 2}) rotate(-90)`)
    .attr("text-anchor", "middle").style("font-size", "19px").text("Price");
  g.append("text").attr("transform", `translate(${r + p.rOff},${(t + b) / 2}) rotate(-90)`)
    .attr("text-anchor", "middle").style("font-size", "19px").text("Price");

  // panel tag
  g.append("text").attr("x", r - 20).attr("y", b - 15).attr("text-anchor", "end")
    .style("font-size", "17px").text(panelTags[i]);

  // legend
  const lg = g.append("g").attr("transform", `translate(${l + 7},${t + 7})`);
  const box = lg.append("rect").attr("rx", 3).attr("ry", 3)
    .attr("fill", "#fff").attr("fill-opacity", 0.85).attr("stroke", "#cccccc").attr("stroke-width", 1);
  const entries = [[futuresNames[i], p.cf], [spotNames[i], p.cs]];
  let maxW = 0;
  entries.forEach((e, k) => {
    const cy = 10 + k * 18;
    lg.append("line").attr("x1", 5).attr("x2", 31).attr("y1", cy).attr("y2", cy)
      .attr("stroke", e[1]).attr("stroke-width", 1.8);
    const tx = lg.append("text").attr("x", 40).attr("y", cy).attr("dy", "0.35em")
      .style("font-size", "12.5px").text(e[0]);
    maxW = Math.max(maxW, tx.node().getComputedTextLength());
  });
  box.attr("x", 0).attr("y", 0).attr("width", 40 + maxW + 6).attr("height", 39);
});
</script>
</body></html>
